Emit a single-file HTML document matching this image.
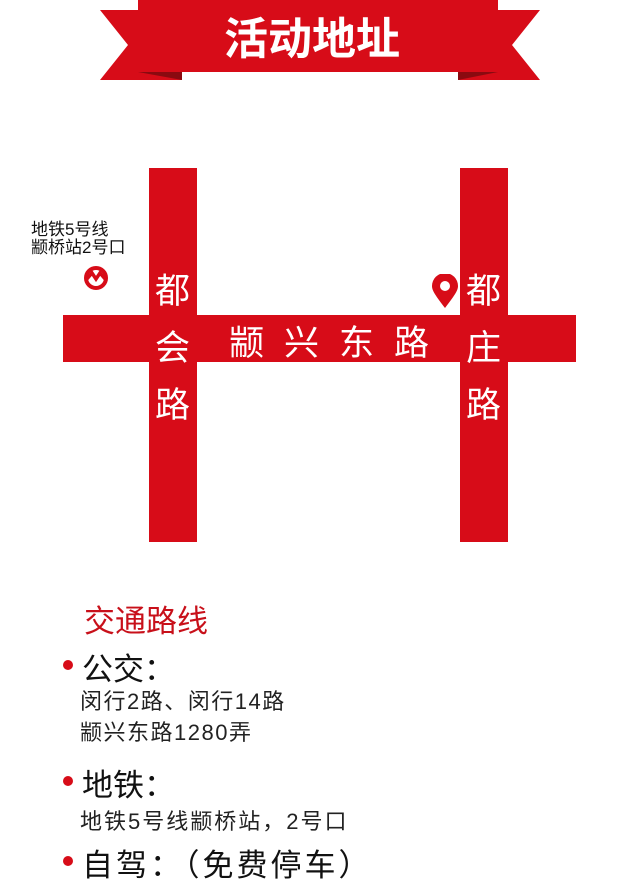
<!DOCTYPE html>
<html><head><meta charset="utf-8"><style>
body{margin:0;width:640px;height:888px;background:#fff;position:relative;overflow:hidden;font-family:"Liberation Sans","Noto Sans CJK SC",sans-serif}
.a{position:absolute;white-space:nowrap}
.r{background:#d70c18;position:absolute}
.w{color:#fff;font-size:35px;position:absolute}
.dot{position:absolute;width:10px;height:10px;border-radius:50%;background:#d70c18}
</style></head><body>
<svg class="a" style="left:0;top:0" width="640" height="90">
<polygon points="100,10 182,10 182,80 100,80 128,45" fill="#d70c18"/>
<polygon points="540,10 458,10 458,80 540,80 512,45" fill="#d70c18"/>
<polygon points="138,72 182,80 182,72" fill="#8a0a10"/>
<polygon points="498,72 458,80 458,72" fill="#8a0a10"/>
<rect x="138" y="0" width="360" height="72" fill="#d70c18"/>
<text x="312" y="54" text-anchor="middle" fill="#fff" font-size="44" font-weight="bold" font-family="Noto Sans CJK SC,sans-serif">活动地址</text>
</svg>
<div class="r" style="left:149px;top:168px;width:48px;height:374px"></div>
<div class="r" style="left:460px;top:168px;width:48px;height:374px"></div>
<div class="r" style="left:63px;top:315px;width:513px;height:47px"></div>
<div class="w" style="left:155px;top:263px;line-height:57px">都<br>会<br>路</div>
<div class="w" style="left:466px;top:263px;line-height:57px">都<br>庄<br>路</div>
<div class="w" style="left:229px;top:315px;letter-spacing:20px;font-size:35px">颛兴东路</div>
<svg class="a" style="left:430px;top:274px" width="30" height="36"><path d="M15 34 C6 22 2 17 2 12 A13 13 0 0 1 28 12 C28 17 24 22 15 34Z" fill="#d70c18"/><circle cx="15" cy="12" r="5" fill="#fff"/></svg>
<div class="a" style="left:31px;top:221px;font-size:17px;line-height:18px;color:#111">地铁5号线<br>颛桥站2号口</div>
<svg class="a" style="left:83px;top:266px" width="26" height="24"><circle cx="13" cy="12" r="10" fill="none" stroke="#d70c18" stroke-width="4"/><path d="M3 14 L9 7 L13 13 L17 7 L23 14" fill="none" stroke="#d70c18" stroke-width="3.5"/></svg>
<div class="a" style="left:84px;top:596px;font-size:31px;color:#c8101a">交通路线</div>
<div class="dot" style="left:63px;top:660px"></div>
<div class="a" style="left:82px;top:644px;font-size:31px;color:#111">公交：</div>
<div class="a" style="left:80px;top:686px;font-size:22px;line-height:31px;color:#222;letter-spacing:1.5px">闵行2路、闵行14路<br>颛兴东路1280弄</div>
<div class="dot" style="left:63px;top:776px"></div>
<div class="a" style="left:82px;top:760px;font-size:31px;color:#111">地铁：</div>
<div class="a" style="left:80px;top:804px;font-size:22px;color:#222;letter-spacing:2px">地铁5号线颛桥站，2号口</div>
<div class="dot" style="left:63px;top:856px"></div>
<div class="a" style="left:82px;top:840px;font-size:31px;color:#111;letter-spacing:3px">自驾：（免费停车）</div>
</body></html>
